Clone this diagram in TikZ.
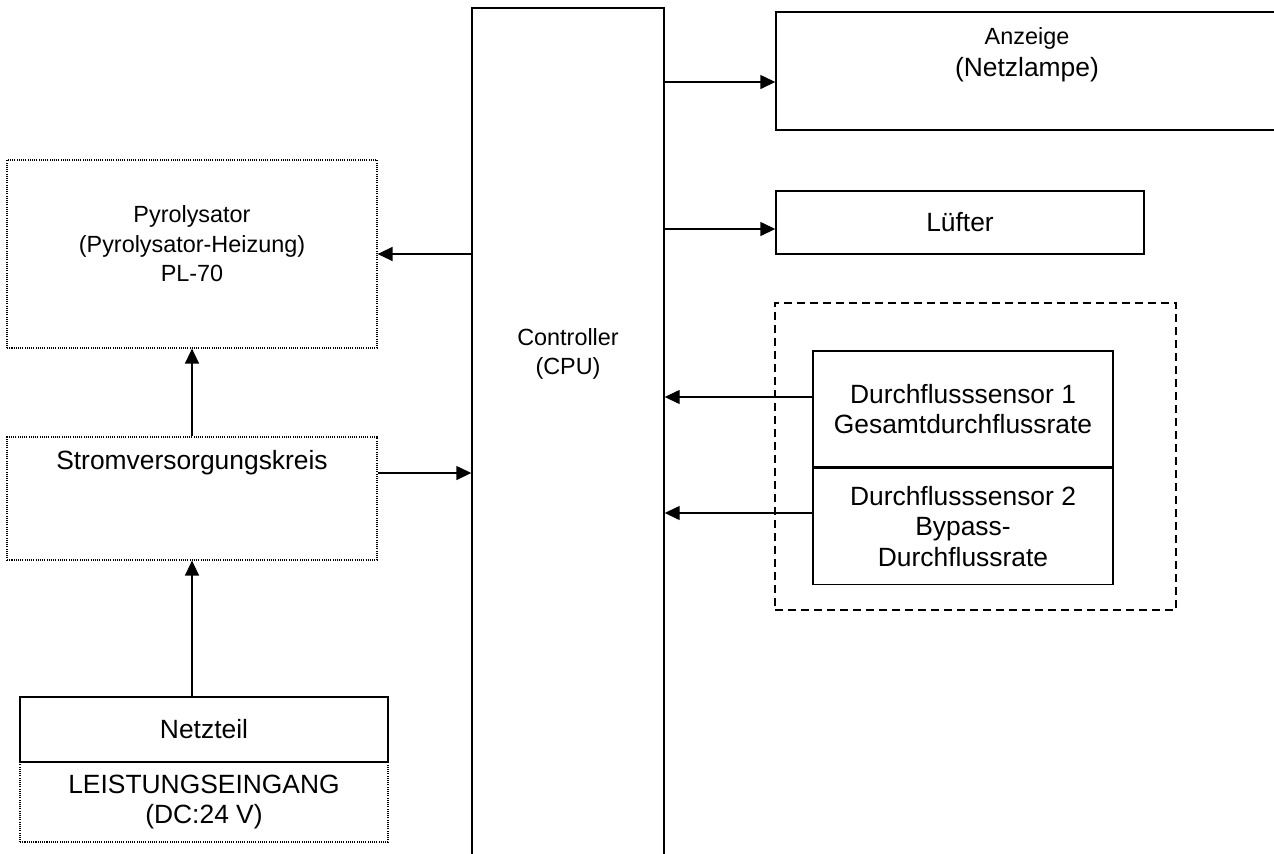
\documentclass[tikz,border=0pt]{standalone}
\usepackage{fontspec}
\setmainfont{Liberation Sans}
\usetikzlibrary{arrows.meta, positioning}
\tikzset{
    blk/.style={draw=black, line width=0.7pt, inner sep=0pt, align=center},
    dotblk/.style={draw=black, line width=0.6pt, dash pattern=on 0.55pt off 0.55pt,
                   inner sep=0pt, align=center},
    grp/.style={draw=black, line width=0.6pt, dash pattern=on 4pt off 2.5pt, inner sep=0pt},
    arr/.style={-{Triangle[length=7.5pt, width=7pt]}, line width=0.7pt},
    big/.style={font=\fontsize{13.2}{15.2}\selectfont, align=center},
    sml/.style={font=\fontsize{11.7}{14.8}\selectfont, align=center},
}

\begin{document}
\begin{tikzpicture}[x=0.5pt, y=-0.5pt]
    \path[use as bounding box, clip] (0,0) rectangle (1274,853);

    % Steuerung, unten offen
    \node[blk, minimum width=96pt, minimum height=496pt] (ctrl) at (568,504) {};
    \node[sml] (ctrltxt) at (568,354) {Controller\\(CPU)};

    % rechte Seite
    \node[blk, minimum width=257pt, minimum height=59pt] (anz) at (1033,71) {};
    \node[align=center] (anztxt) at (1027,55)
        {\fontsize{11.7}{14}\selectfont Anzeige\\[4pt]\fontsize{13.2}{15.2}\selectfont (Netzlampe)};
    \node[blk, big, minimum width=184pt, minimum height=31.5pt] (lue) at (960,222.5) {L\"ufter};
    \node[grp, minimum width=200.5pt, minimum height=153.5pt] (sens) at (975.5,456.5) {};
    \node[blk, big, minimum width=150pt, minimum height=58pt] (fs1) at (963,409)
        {Durchflusssensor 1\\Gesamtdurchflussrate};
    \node[blk, big, minimum width=150pt, minimum height=58pt, below=0pt of fs1] (fs2)
        {Durchflusssensor 2\\Bypass-\\Durchflussrate};

    % linke Seite
    \node[dotblk, minimum width=185pt, minimum height=94pt] (pyro) at (192,254) {};
    \node[sml] (pyrotxt) at (192,244) {Pyrolysator\\(Pyrolysator-Heizung)\\PL-70};
    \node[dotblk, minimum width=185pt, minimum height=61.5pt] (strom) at (192,498.5) {};
    \node[big] (stromtxt) at (192,463) {Stromversorgungskreis};
    \node[dotblk, big, minimum width=184pt, minimum height=40pt] (ein) at (204,802)
        {LEISTUNGSEINGANG\\(DC:24 V)};
    \node[blk, big, minimum width=184pt, minimum height=32.5pt] (netz) at (204,729.5) {Netzteil};

    % Hoehen der Pfeile
    \coordinate (yanz) at (0,82);
    \coordinate (ylue) at (0,229);
    \coordinate (ystr) at (0,473);
    \coordinate (yfs1) at (0,397);
    \coordinate (yfs2) at (0,513);

    \draw[arr] (ctrl.east |- yanz) -- (anz.west |- yanz);
    \draw[arr] (ctrl.east |- ylue) -- (lue.west |- ylue);
    \draw[arr] (fs1.west |- yfs1) -- (ctrl.east |- yfs1);
    \draw[arr] (fs2.west |- yfs2) -- (ctrl.east |- yfs2);
    \draw[arr] (ctrl.west |- pyro) -- (pyro.east);
    \draw[arr] (strom.east |- ystr) -- (ctrl.west |- ystr);
    \draw[arr] (strom.north) -- (pyro.south);
    \draw[arr] (netz.north -| strom) -- (strom.south);
\end{tikzpicture}
\end{document}
